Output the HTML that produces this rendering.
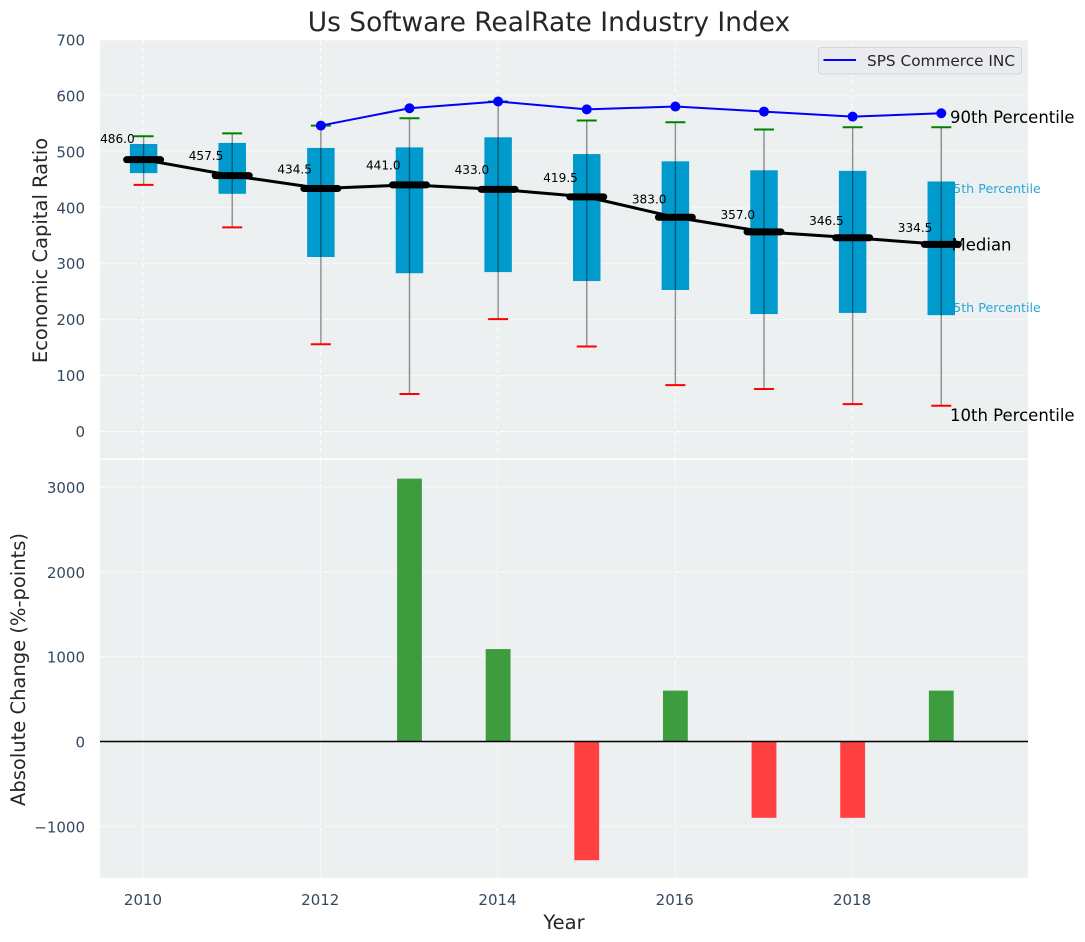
<!DOCTYPE html>
<html lang="en">
<head>
<meta charset="utf-8">
<title>Us Software RealRate Industry Index</title>
<style>
html,body{margin:0;padding:0;background:#fff;}
svg{display:block;font-family:"DejaVu Sans","Liberation Sans",sans-serif;}
</style>
</head>
<body>
<svg id="chart" xmlns="http://www.w3.org/2000/svg" width="1085" height="942" viewBox="0 0 1085 942"></svg>
<script>
const years = [2010,2011,2012,2013,2014,2015,2016,2017,2018,2019];
const medians = [486,457.5,434.5,441,433,419.5,383,357,346.5,334.5];
const p75 = [514,516,507,508,526,496,483,467,466,447];
const p25 = [462,425,312,283,285,269,253,210,212,208];
const p90 = [528,533,547,560,590,556,553,540,544,544];
const p10 = [441,365,156,67,201,152,83,76,49,46];
const companyYears = [2012,2013,2014,2015,2016,2017,2018,2019];
const companyValues = [547,578,590,576,581,572,563,569];
const changeYears = [2013,2014,2015,2016,2017,2018,2019];
const changeValues = [3100,1090,-1400,600,-900,-900,600];
const topTicks = [0,100,200,300,400,500,600,700];
const bottomTicks = [-1000,0,1000,2000,3000];
const xTicks = [2010,2012,2014,2016,2018];

const NS = 'http://www.w3.org/2000/svg';
const svg = document.getElementById('chart');
const plotLeft = 100, plotRight = 1028;
const topAxisTop = 40, topAxisBottom = 458.5;
const botAxisTop = 460, botAxisBottom = 878;
function x(y){ return 143.6 + (y - 2010) * 88.63; }
function yTop(v){ return 431.5 - v * 0.5593; }
function yBot(v){ return 741.5 - v * 0.0848; }
function mk(tag, attrs, text){
  const el = document.createElementNS(NS, tag);
  for (const k in attrs) el.setAttribute(k, attrs[k]);
  if (text !== undefined) el.textContent = text;
  svg.appendChild(el);
  return el;
}
function fmtTick(v){ return v < 0 ? '\u2212' + Math.abs(v) : String(v); }
let el;

el = mk('rect',{x:plotLeft,y:topAxisTop,width:plotRight-plotLeft,height:topAxisBottom-topAxisTop,fill:'#ecf0f1'});


el = mk('rect',{x:plotLeft,y:botAxisTop,width:plotRight-plotLeft,height:botAxisBottom-botAxisTop,fill:'#ecf0f1'});



const gridStyle = {stroke:'#ffffff','stroke-width':1,'stroke-dasharray':'5 3','stroke-opacity':0.85};
topTicks.forEach(function(t){
  el = mk('line',Object.assign({x1:plotLeft,x2:plotRight,y1:yTop(t),y2:yTop(t)},gridStyle));
  
  
  el = mk('text',{x:85,y:yTop(t)+5.5,'text-anchor':'end','font-size':15,fill:'#34495e'},fmtTick(t));
  
  
});
bottomTicks.forEach(function(t){
  el = mk('line',Object.assign({x1:plotLeft,x2:plotRight,y1:yBot(t),y2:yBot(t)},gridStyle));
  
  
  el = mk('text',{x:85,y:yBot(t)+6,'text-anchor':'end','font-size':15,fill:'#34495e'},fmtTick(t));
  
  
});
xTicks.forEach(function(t){
  el = mk('line',Object.assign({x1:x(t)-0.4,x2:x(t)-0.4,y1:topAxisTop,y2:topAxisBottom},gridStyle));
  
  
  el = mk('line',Object.assign({x1:x(t)-0.4,x2:x(t)-0.4,y1:botAxisTop,y2:botAxisBottom},gridStyle));
  
  
  el = mk('text',{x:x(t)-0.6,y:905,'text-anchor':'middle','font-size':15,fill:'#34495e'},String(t));
  
  
});

el = mk('text',{x:x(2019)+3.8,y:193,'font-size':12.7,fill:'#2aa7d6'},'75th Percentile');


el = mk('text',{x:x(2019)+3.8,y:312,'font-size':12.7,fill:'#2aa7d6'},'25th Percentile');



const boxHalf = 0.155 * 88.63;
years.forEach(function(yr,i){
  el = mk('rect',{x:x(yr)-boxHalf,y:yTop(p75[i]),width:boxHalf*2,height:yTop(p25[i])-yTop(p75[i]),fill:'#009acd'});
  
  
  el = mk('line',{x1:x(yr),x2:x(yr),y1:yTop(p90[i]),y2:yTop(p10[i]),stroke:'#000','stroke-width':1.4,'stroke-opacity':0.42});
  
  
  el = mk('line',{x1:x(yr)-10,x2:x(yr)+10,y1:yTop(p90[i]),y2:yTop(p90[i]),stroke:'#008000','stroke-width':2});
  
  
  el = mk('line',{x1:x(yr)-10,x2:x(yr)+10,y1:yTop(p10[i]),y2:yTop(p10[i]),stroke:'#ff0000','stroke-width':2});
  
  
});

el = mk('polyline',{points:years.map(function(yr,i){return x(yr)+','+yTop(medians[i]);}).join(' '),fill:'none',stroke:'#000','stroke-width':3});


years.forEach(function(yr,i){
  el = mk('line',{x1:x(yr)-17,x2:x(yr)+17,y1:yTop(medians[i]),y2:yTop(medians[i]),stroke:'#000','stroke-width':7,'stroke-linecap':'round'});
  
  
  el = mk('text',{x:x(yr)-26.2,y:yTop(medians[i]*1.05)-3,'text-anchor':'middle','font-size':12.1,fill:'#000'},medians[i].toFixed(1));
  
  
});

el = mk('polyline',{points:companyYears.map(function(yr,i){return x(yr)+','+yTop(companyValues[i]);}).join(' '),fill:'none',stroke:'#0000ff','stroke-width':2});


companyYears.forEach(function(yr,i){
  el = mk('circle',{cx:x(yr),cy:yTop(companyValues[i]),r:5,fill:'#0000ff'});
  
  
});

el = mk('text',{x:950,y:123,'font-size':16.5,fill:'#000'},'90th Percentile');


el = mk('text',{x:951.5,y:250.5,'font-size':16.5,fill:'#000'},'Median');


el = mk('text',{x:950,y:421,'font-size':16.5,fill:'#000'},'10th Percentile');



el = mk('rect',{x:818.5,y:47.5,width:203,height:26.5,rx:3,fill:'#e9ebf0',stroke:'#d2d4d8','stroke-width':1});


el = mk('line',{x1:823.5,x2:856,y1:60,y2:60,stroke:'#0000ff','stroke-width':2});


el = mk('text',{x:867,y:66,'font-size':15.3,fill:'#262626'},'SPS Commerce INC');



const barHalf = 0.14 * 88.63;
changeYears.forEach(function(yr,i){
  const v = changeValues[i];
  el = mk('rect',{x:x(yr)-barHalf,y:Math.min(yBot(v),yBot(0)),width:barHalf*2,height:Math.abs(yBot(v)-yBot(0)),fill:v>=0?'#3c9c3e':'#ff4040'});
  
  
});
el = mk('line',{x1:plotLeft,x2:plotRight,y1:yBot(0),y2:yBot(0),stroke:'#000','stroke-width':1.4});



el = mk('text',{x:549,y:31,'text-anchor':'middle','font-size':26.45,fill:'#262626'},'Us Software RealRate Industry Index');


el = mk('text',{x:47,y:250.5,'text-anchor':'middle','font-size':19.5,fill:'#262626',transform:'rotate(-90 47 250.5)'},'Economic Capital Ratio');


el = mk('text',{x:25,y:669.5,'text-anchor':'middle','font-size':19.5,fill:'#262626',transform:'rotate(-90 25 669.5)'},'Absolute Change (%-points)');


el = mk('text',{x:564,y:929,'text-anchor':'middle','font-size':19.5,fill:'#262626'},'Year');


</script>
</body>
</html>
